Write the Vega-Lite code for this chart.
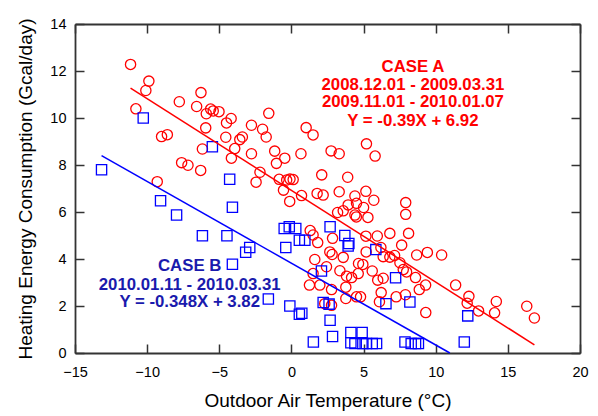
{
  "$schema": "https://vega.github.io/schema/vega-lite/v6.json",
  "width": 505,
  "height": 329,
  "autosize": {"type": "none"},
  "padding": {"left": 75, "top": 24, "right": 18, "bottom": 63},
  "background": "white",
  "config": {
    "view": {"stroke": null},
    "font": "Liberation Sans",
    "axis": {
      "grid": false,
      "domainColor": "#333333",
      "domainWidth": 1.8,
      "tickColor": "#333333",
      "tickWidth": 1.5,
      "labelColor": "#000000",
      "labelFontSize": 14.5,
      "labelFont": "Liberation Sans",
      "titleFont": "Liberation Sans",
      "titleFontSize": 19,
      "titleFontWeight": "normal",
      "titleColor": "#000000"
    }
  },
  "datasets": {
    "pts": [
      {"case": "A", "x": -11.15, "y": 12.28}, {"case": "A", "x": -9.88, "y": 11.57}, {"case": "A", "x": -10.09, "y": 11.17},
      {"case": "A", "x": -10.78, "y": 10.39}, {"case": "A", "x": -7.77, "y": 10.69}, {"case": "A", "x": -6.27, "y": 11.08},
      {"case": "A", "x": -6.57, "y": 10.49}, {"case": "A", "x": -5.9, "y": 10.18}, {"case": "A", "x": -5.6, "y": 10.38},
      {"case": "A", "x": -5.42, "y": 10.3}, {"case": "A", "x": -5.02, "y": 10.27}, {"case": "A", "x": -5.94, "y": 9.58},
      {"case": "A", "x": -9.0, "y": 9.21}, {"case": "A", "x": -8.6, "y": 9.29}, {"case": "A", "x": -6.17, "y": 8.68},
      {"case": "A", "x": -7.61, "y": 8.1}, {"case": "A", "x": -7.17, "y": 7.99}, {"case": "A", "x": -6.29, "y": 7.77},
      {"case": "A", "x": -9.3, "y": 7.29}, {"case": "A", "x": -4.18, "y": 9.98}, {"case": "A", "x": -4.5, "y": 9.79},
      {"case": "A", "x": -2.77, "y": 9.69}, {"case": "A", "x": -2.0, "y": 9.52}, {"case": "A", "x": -1.75, "y": 9.19},
      {"case": "A", "x": -1.57, "y": 10.2}, {"case": "A", "x": 1.02, "y": 9.59}, {"case": "A", "x": 1.5, "y": 9.28},
      {"case": "A", "x": -4.55, "y": 9.18}, {"case": "A", "x": -3.58, "y": 9.08}, {"case": "A", "x": -3.4, "y": 9.19},
      {"case": "A", "x": -3.93, "y": 8.7}, {"case": "A", "x": -4.16, "y": 8.29}, {"case": "A", "x": -2.77, "y": 8.48},
      {"case": "A", "x": -1.16, "y": 8.59}, {"case": "A", "x": -0.46, "y": 8.29}, {"case": "A", "x": -1.04, "y": 8.07},
      {"case": "A", "x": 0.66, "y": 8.48}, {"case": "A", "x": 2.75, "y": 8.6}, {"case": "A", "x": 3.31, "y": 8.48},
      {"case": "A", "x": -2.18, "y": 7.69}, {"case": "A", "x": -2.45, "y": 7.27}, {"case": "A", "x": -0.85, "y": 7.39},
      {"case": "A", "x": -0.33, "y": 7.36}, {"case": "A", "x": -0.1, "y": 7.4}, {"case": "A", "x": 0.12, "y": 7.38},
      {"case": "A", "x": -0.55, "y": 6.93}, {"case": "A", "x": -0.12, "y": 6.45}, {"case": "A", "x": 0.7, "y": 6.7},
      {"case": "A", "x": 2.1, "y": 7.58}, {"case": "A", "x": 3.9, "y": 7.48}, {"case": "A", "x": 5.2, "y": 8.9},
      {"case": "A", "x": 5.8, "y": 8.38}, {"case": "A", "x": 1.78, "y": 6.79}, {"case": "A", "x": 2.2, "y": 6.72},
      {"case": "A", "x": 3.31, "y": 6.86}, {"case": "A", "x": 4.4, "y": 6.68}, {"case": "A", "x": 5.16, "y": 6.88},
      {"case": "A", "x": 5.71, "y": 6.5}, {"case": "A", "x": 4.51, "y": 6.37}, {"case": "A", "x": 3.93, "y": 6.3},
      {"case": "A", "x": 5.0, "y": 6.19}, {"case": "A", "x": 3.2, "y": 5.98}, {"case": "A", "x": 3.59, "y": 6.05},
      {"case": "A", "x": 4.4, "y": 5.87}, {"case": "A", "x": 4.5, "y": 5.79}, {"case": "A", "x": 5.3, "y": 5.77},
      {"case": "A", "x": 7.92, "y": 6.4}, {"case": "A", "x": 7.92, "y": 5.9}, {"case": "A", "x": 1.3, "y": 5.21},
      {"case": "A", "x": 1.5, "y": 5.02}, {"case": "A", "x": 2.85, "y": 4.88}, {"case": "A", "x": 1.82, "y": 4.7},
      {"case": "A", "x": 5.16, "y": 4.97}, {"case": "A", "x": 5.95, "y": 4.98}, {"case": "A", "x": 6.82, "y": 5.09},
      {"case": "A", "x": 8.12, "y": 5.09}, {"case": "A", "x": 7.64, "y": 4.59}, {"case": "A", "x": 2.66, "y": 4.3},
      {"case": "A", "x": 2.82, "y": 4.19}, {"case": "A", "x": 3.59, "y": 4.07}, {"case": "A", "x": 5.18, "y": 4.3},
      {"case": "A", "x": 6.2, "y": 4.49}, {"case": "A", "x": 6.36, "y": 4.1}, {"case": "A", "x": 6.82, "y": 4.08},
      {"case": "A", "x": 7.15, "y": 4.15}, {"case": "A", "x": 8.68, "y": 4.17}, {"case": "A", "x": 9.42, "y": 4.28},
      {"case": "A", "x": 10.41, "y": 4.17}, {"case": "A", "x": 1.62, "y": 3.98}, {"case": "A", "x": 7.52, "y": 3.84},
      {"case": "A", "x": 2.43, "y": 3.67}, {"case": "A", "x": 4.65, "y": 3.81}, {"case": "A", "x": 4.95, "y": 3.77},
      {"case": "A", "x": 7.75, "y": 3.55}, {"case": "A", "x": 7.98, "y": 3.45}, {"case": "A", "x": 3.36, "y": 3.5},
      {"case": "A", "x": 3.82, "y": 3.27}, {"case": "A", "x": 4.17, "y": 3.21}, {"case": "A", "x": 4.63, "y": 3.38},
      {"case": "A", "x": 5.6, "y": 3.49}, {"case": "A", "x": 5.98, "y": 3.1}, {"case": "A", "x": 6.36, "y": 3.18},
      {"case": "A", "x": 8.6, "y": 3.21}, {"case": "A", "x": 1.97, "y": 2.89}, {"case": "A", "x": 2.78, "y": 2.7},
      {"case": "A", "x": 3.77, "y": 2.8}, {"case": "A", "x": 8.86, "y": 2.7}, {"case": "A", "x": 9.3, "y": 2.89},
      {"case": "A", "x": 11.38, "y": 2.89}, {"case": "A", "x": 3.77, "y": 2.32}, {"case": "A", "x": 4.51, "y": 2.39},
      {"case": "A", "x": 4.79, "y": 2.39}, {"case": "A", "x": 6.22, "y": 2.57}, {"case": "A", "x": 6.1, "y": 2.18},
      {"case": "A", "x": 7.26, "y": 2.39}, {"case": "A", "x": 7.9, "y": 2.48}, {"case": "A", "x": 12.3, "y": 2.41},
      {"case": "A", "x": 14.2, "y": 2.19}, {"case": "A", "x": 16.31, "y": 1.99}, {"case": "A", "x": 16.84, "y": 1.49},
      {"case": "A", "x": 12.18, "y": 2.12}, {"case": "A", "x": 12.97, "y": 1.79}, {"case": "A", "x": 14.08, "y": 1.71},
      {"case": "A", "x": 9.31, "y": 1.72}, {"case": "A", "x": 2.31, "y": 2.1}, {"case": "A", "x": 2.78, "y": 2.03},
      {"case": "A", "x": 1.5, "y": 3.38}, {"case": "A", "x": 1.25, "y": 2.89},
      {"case": "B", "x": -13.16, "y": 7.8}, {"case": "B", "x": -10.27, "y": 10.0}, {"case": "B", "x": -9.07, "y": 6.48},
      {"case": "B", "x": -7.96, "y": 5.87}, {"case": "B", "x": -6.17, "y": 4.99}, {"case": "B", "x": -5.48, "y": 8.78},
      {"case": "B", "x": -4.47, "y": 4.99}, {"case": "B", "x": -4.28, "y": 7.39}, {"case": "B", "x": -4.09, "y": 6.2},
      {"case": "B", "x": -4.09, "y": 3.78}, {"case": "B", "x": -3.17, "y": 4.29}, {"case": "B", "x": -2.89, "y": 4.49},
      {"case": "B", "x": -1.6, "y": 2.3}, {"case": "B", "x": -0.5, "y": 5.3}, {"case": "B", "x": -0.15, "y": 5.37},
      {"case": "B", "x": 0.3, "y": 5.3}, {"case": "B", "x": -0.39, "y": 4.49}, {"case": "B", "x": 0.55, "y": 4.8},
      {"case": "B", "x": 0.93, "y": 4.8}, {"case": "B", "x": -0.11, "y": 2.0}, {"case": "B", "x": 0.55, "y": 1.65},
      {"case": "B", "x": 0.72, "y": 1.69}, {"case": "B", "x": 1.52, "y": 0.47}, {"case": "B", "x": 2.08, "y": 3.49},
      {"case": "B", "x": 2.2, "y": 2.15}, {"case": "B", "x": 2.61, "y": 2.08}, {"case": "B", "x": 2.68, "y": 5.37},
      {"case": "B", "x": 2.68, "y": 1.39}, {"case": "B", "x": 2.85, "y": 0.7}, {"case": "B", "x": 3.7, "y": 5.0},
      {"case": "B", "x": 3.98, "y": 4.66}, {"case": "B", "x": 3.93, "y": 4.55}, {"case": "B", "x": 5.85, "y": 4.4},
      {"case": "B", "x": 7.22, "y": 3.2}, {"case": "B", "x": 6.55, "y": 2.1}, {"case": "B", "x": 8.21, "y": 2.17},
      {"case": "B", "x": 12.22, "y": 1.58}, {"case": "B", "x": 4.12, "y": 0.87}, {"case": "B", "x": 4.9, "y": 0.87},
      {"case": "B", "x": 4.12, "y": 0.44}, {"case": "B", "x": 4.4, "y": 0.4}, {"case": "B", "x": 4.95, "y": 0.4},
      {"case": "B", "x": 5.2, "y": 0.4}, {"case": "B", "x": 5.6, "y": 0.4}, {"case": "B", "x": 5.9, "y": 0.4},
      {"case": "B", "x": 7.87, "y": 0.47}, {"case": "B", "x": 8.3, "y": 0.4}, {"case": "B", "x": 8.6, "y": 0.4},
      {"case": "B", "x": 8.8, "y": 0.4}, {"case": "B", "x": 11.98, "y": 0.47}
    ],
    "fits": [
      {"case": "A", "x": -11.15, "y": 11.27},
      {"case": "A", "x": 16.84, "y": 0.35},
      {"case": "B", "x": -13.16, "y": 8.4},
      {"case": "B", "x": 10.98, "y": 0.0}
    ],
    "textA": [
      {"label": "CASE A", "x": 8.42, "y": 12.19},
      {"label": "2008.12.01 - 2009.03.31", "x": 8.42, "y": 11.4},
      {"label": "2009.11.01 - 2010.01.07", "x": 8.42, "y": 10.66},
      {"label": "Y = -0.39X + 6.92", "x": 8.42, "y": 9.89}
    ],
    "textB": [
      {"label": "CASE B", "x": -7.05, "y": 3.7},
      {"label": "2010.01.11 - 2010.03.31", "x": -7.05, "y": 2.89},
      {"label": "Y = -0.348X + 3.82", "x": -7.05, "y": 2.15}
    ]
  },
  "resolve": {"axis": {"x": "independent", "y": "independent"}},
  "layer": [
    {
      "data": {"name": "pts"},
      "mark": {"type": "point", "filled": false, "size": 105, "strokeWidth": 1.3, "opacity": 1},
      "encoding": {
        "x": {"field": "x", "type": "quantitative",
          "scale": {"domain": [-15, 20], "nice": false, "zero": false},
          "axis": {"orient": "bottom", "values": [-15, -10, -5, 0, 5, 10, 15, 20], "tickSize": -9, "labelPadding": 21,
            "labelFlush": false, "labelOverlap": false, "title": "Outdoor Air Temperature (°C)", "titlePadding": 13}},
        "y": {"field": "y", "type": "quantitative",
          "scale": {"domain": [0, 14], "nice": false, "zero": false},
          "axis": {"orient": "left", "values": [0, 2, 4, 6, 8, 10, 12, 14], "tickSize": -9, "labelPadding": 18,
            "labelFlush": false, "labelOverlap": false, "title": "Heating Energy Consumption (Gcal/day)", "titlePadding": 14}},
        "color": {"field": "case", "type": "nominal", "scale": {"domain": ["A", "B"], "range": ["#ff0000", "#0000ff"]}, "legend": null},
        "shape": {"field": "case", "type": "nominal", "scale": {"domain": ["A", "B"], "range": ["circle", "square"]}, "legend": null}
      }
    },
    {
      "data": {"name": "fits"},
      "mark": {"type": "line", "strokeWidth": 1.5},
      "encoding": {
        "x": {"field": "x", "type": "quantitative",
          "scale": {"domain": [-15, 20], "nice": false, "zero": false},
          "axis": {"orient": "top", "values": [-15, -10, -5, 0, 5, 10, 15, 20], "tickSize": -9, "labels": false, "title": null}},
        "y": {"field": "y", "type": "quantitative",
          "scale": {"domain": [0, 14], "nice": false, "zero": false},
          "axis": {"orient": "right", "values": [0, 2, 4, 6, 8, 10, 12, 14], "tickSize": -9, "labels": false, "title": null}},
        "color": {"field": "case", "type": "nominal", "scale": {"domain": ["A", "B"], "range": ["#ff0000", "#0000ff"]}, "legend": null},
        "detail": {"field": "case"}
      }
    },
    {
      "data": {"name": "textA"},
      "mark": {"type": "text", "font": "Liberation Sans", "fontWeight": "bold", "fontSize": 16.8, "align": "center", "baseline": "middle", "color": "#ff0000"},
      "encoding": {
        "x": {"field": "x", "type": "quantitative", "scale": {"domain": [-15, 20], "nice": false, "zero": false}, "axis": null},
        "y": {"field": "y", "type": "quantitative", "scale": {"domain": [0, 14], "nice": false, "zero": false}, "axis": null},
        "text": {"field": "label"}
      }
    },
    {
      "data": {"name": "textB"},
      "mark": {"type": "text", "font": "Liberation Sans", "fontWeight": "bold", "fontSize": 16.8, "align": "center", "baseline": "middle", "color": "#1a1aad"},
      "encoding": {
        "x": {"field": "x", "type": "quantitative", "scale": {"domain": [-15, 20], "nice": false, "zero": false}, "axis": null},
        "y": {"field": "y", "type": "quantitative", "scale": {"domain": [0, 14], "nice": false, "zero": false}, "axis": null},
        "text": {"field": "label"}
      }
    }
  ]
}
